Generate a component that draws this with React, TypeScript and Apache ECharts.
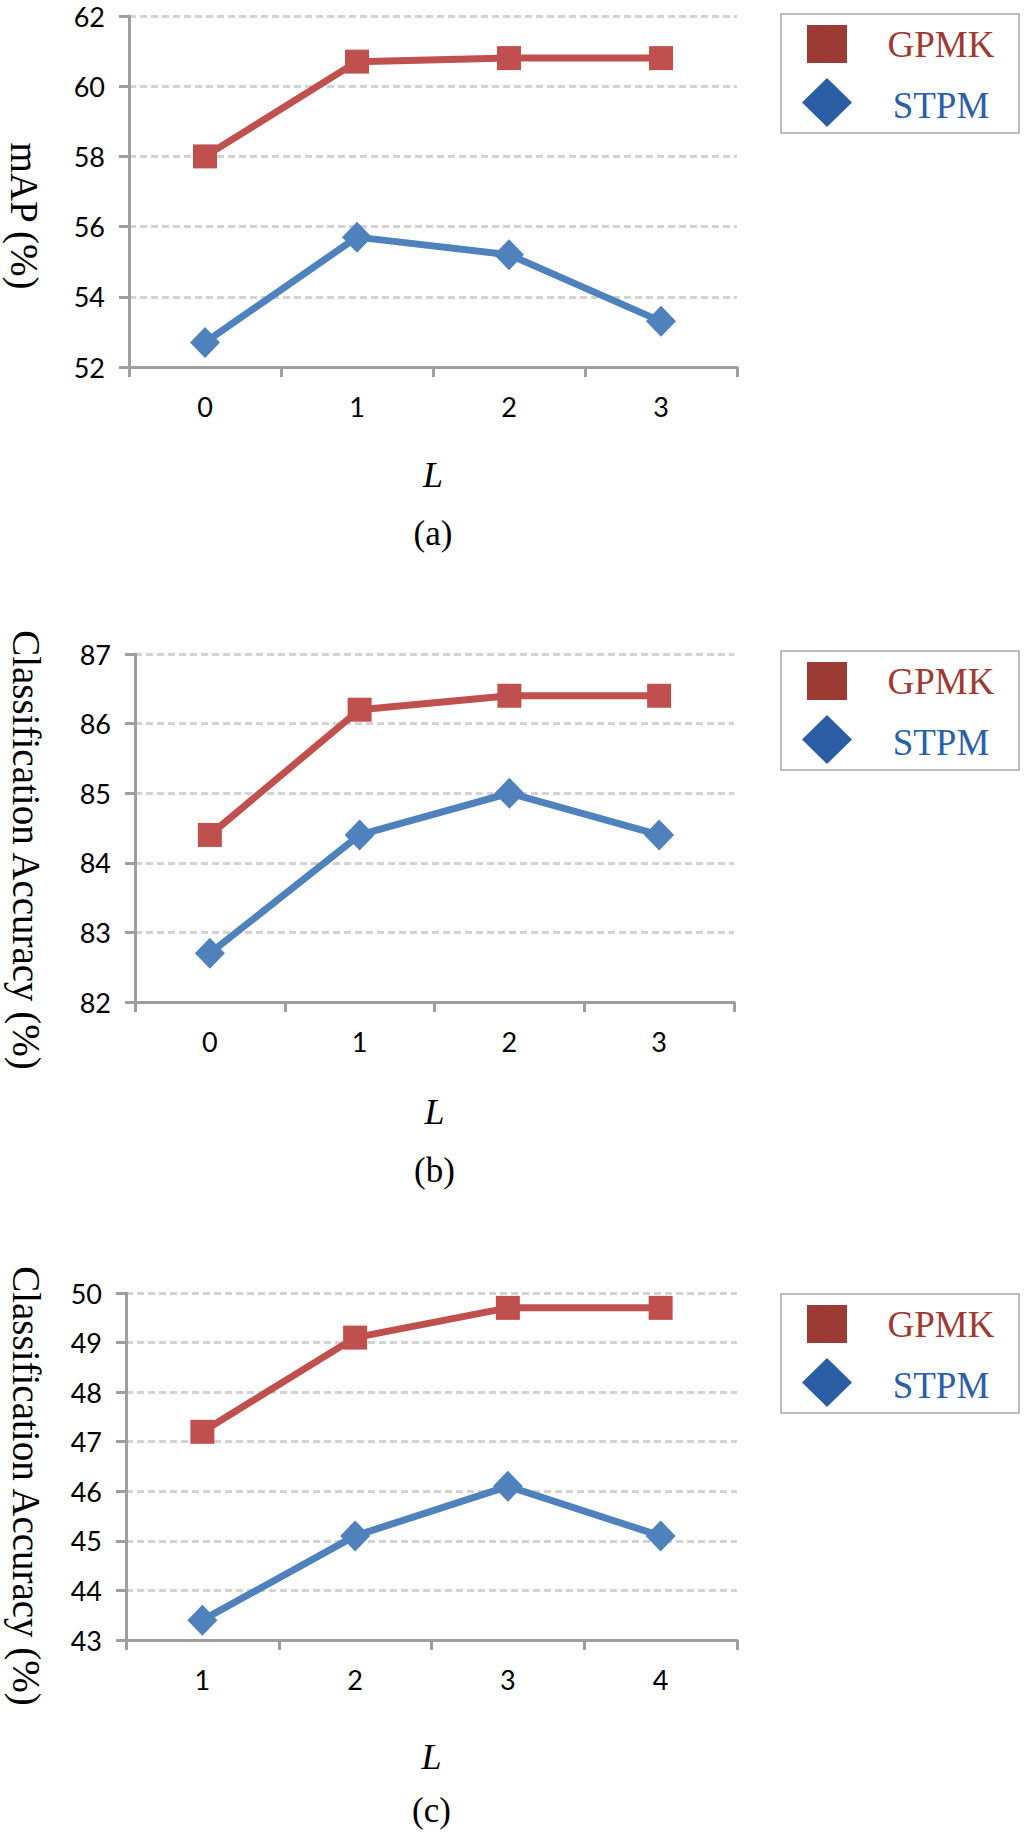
import { useEffect, useRef } from 'react';
import * as echarts from 'echarts';

// 값
const seriesNames = ['GPMK', 'STPM'];
const levelsA = ['0', '1', '2', '3'];
const levelsB = ['0', '1', '2', '3'];
const levelsC = ['1', '2', '3', '4'];
const gpmkA = [58.0, 60.7, 60.8, 60.8];
const stpmA = [52.7, 55.7, 55.2, 53.3];
const gpmkB = [84.4, 86.2, 86.4, 86.4];
const stpmB = [82.7, 84.4, 85.0, 84.4];
const gpmkC = [47.2, 49.1, 49.7, 49.7];
const stpmC = [43.4, 45.1, 46.1, 45.1];
// [min, max, interval]
const yTicksA = [52, 62, 2];
const yTicksB = [82, 87, 1];
const yTicksC = [43, 50, 1];
const yTitles = ['mAP (%)', 'Classification Accuracy (%)', 'Classification Accuracy (%)'];
const xTitle = 'L';
const captions = ['(a)', '(b)', '(c)'];

const RED = '#c0504d';
const BLUE = '#4f81bd';
const AXIS = '#9e9e9e';
const GRID = '#d3d3d3';
const SERIF = '"Liberation Serif", "Times New Roman", serif';
const SANS = 'Lato, sans-serif';

const panels = [
  { cats: levelsA, gpmk: gpmkA, stpm: stpmA, ticks: yTicksA, grid: { left: 129, top: 16, width: 608, height: 351 }, yTitleX: 24, yTitleY: 216, legendTop: 14, xTitleY: 475, captionY: 533 },
  { cats: levelsB, gpmk: gpmkB, stpm: stpmB, ticks: yTicksB, grid: { left: 135, top: 654, width: 599, height: 348 }, yTitleX: 26, yTitleY: 850, legendTop: 651, xTitleY: 1112, captionY: 1170 },
  { cats: levelsC, gpmk: gpmkC, stpm: stpmC, ticks: yTicksC, grid: { left: 126, top: 1293, width: 611, height: 347 }, yTitleX: 26, yTitleY: 1486, legendTop: 1294, xTitleY: 1757, captionY: 1810 },
];

function legendBox(top: number) {
  return {
    type: 'group',
    x: 781,
    y: top,
    children: [
      { type: 'rect', shape: { x: 0, y: 0, width: 238, height: 119 }, style: { fill: '#fff', stroke: '#a6a6a6', lineWidth: 1.5 } },
      { type: 'rect', shape: { x: 26, y: 11, width: 40, height: 38 }, style: { fill: '#9c3b34' } },
      { type: 'polygon', shape: { points: [[46, 64], [71, 88.5], [46, 113], [21, 88.5]] }, style: { fill: '#2a5da4' } },
      {
        type: 'text', x: 160, y: 30,
        style: { text: seriesNames[0], fontSize: 37, fontFamily: SERIF, fill: '#9e3a32', textAlign: 'center', textVerticalAlign: 'middle' },
      },
      {
        type: 'text', x: 160, y: 91,
        style: { text: seriesNames[1], fontSize: 37, fontFamily: SERIF, fill: '#2b5fa6', textAlign: 'center', textVerticalAlign: 'middle' },
      },
    ],
  };
}

export default function App() {
  const chartRef = useRef<HTMLDivElement>(null);

  useEffect(() => {
    if (!chartRef.current) return;
    document.body.style.margin = '0';

    const chart = echarts.init(chartRef.current, undefined, { renderer: 'svg' });

    const grids = panels.map((p) => ({ ...p.grid, containLabel: false }));

    const xAxes = panels.map((p, i) => ({
      type: 'category',
      gridIndex: i,
      data: p.cats,
      boundaryGap: true,
      axisLine: { lineStyle: { color: AXIS, width: 3 } },
      axisTick: { show: true, length: 10, lineStyle: { color: AXIS, width: 3 } },
      axisLabel: { color: '#000', fontSize: 27, fontFamily: SANS, margin: 26 },
      splitLine: { show: false },
    }));

    const yAxes = panels.map((p, i) => ({
      type: 'value',
      gridIndex: i,
      min: p.ticks[0],
      max: p.ticks[1],
      interval: p.ticks[2],
      axisLine: { show: true, lineStyle: { color: AXIS, width: 3 } },
      axisTick: { show: true, length: 10, lineStyle: { color: AXIS, width: 3 } },
      axisLabel: { color: '#000', fontSize: 27, fontFamily: SANS, margin: 24 },
      splitLine: { show: true, lineStyle: { color: GRID, width: 3, type: [7, 4] } },
    }));

    const series: any[] = [];
    panels.forEach((p, i) => {
      series.push({
        name: seriesNames[0],
        type: 'line',
        xAxisIndex: i,
        yAxisIndex: i,
        data: p.gpmk,
        symbol: 'rect',
        symbolSize: 24,
        lineStyle: { color: RED, width: 7 },
        itemStyle: { color: RED },
        emphasis: { disabled: true },
      });
      series.push({
        name: seriesNames[1],
        type: 'line',
        xAxisIndex: i,
        yAxisIndex: i,
        data: p.stpm,
        symbol: 'diamond',
        symbolSize: [30, 31],
        lineStyle: { color: BLUE, width: 7 },
        itemStyle: { color: BLUE },
        emphasis: { disabled: true },
      });
    });

    const graphic: any[] = [];
    panels.forEach((p, i) => {
      const cx = p.grid.left + p.grid.width / 2;
      graphic.push(legendBox(p.legendTop));
      // 세로 제목: 위에서 아래로 읽힘
      graphic.push({
        type: 'text', x: p.yTitleX, y: p.yTitleY, rotation: -Math.PI / 2,
        style: { text: yTitles[i], fontSize: 39, fontFamily: SERIF, fill: '#000', textAlign: 'center', textVerticalAlign: 'middle' },
      });
      graphic.push({
        type: 'text', x: cx, y: p.xTitleY,
        style: { text: xTitle, fontSize: 36, fontStyle: 'italic', fontFamily: SERIF, fill: '#000', textAlign: 'center', textVerticalAlign: 'middle' },
      });
      graphic.push({
        type: 'text', x: cx, y: p.captionY,
        style: { text: captions[i], fontSize: 35, fontFamily: SERIF, fill: '#000', textAlign: 'center', textVerticalAlign: 'middle' },
      });
    });

    const option: any = {
      animation: false,
      backgroundColor: '#fff',
      grid: grids,
      xAxis: xAxes,
      yAxis: yAxes,
      series,
      graphic,
    };

    chart.setOption(option);

    const onResize = () => chart.resize();
    window.addEventListener('resize', onResize);

    return () => {
      window.removeEventListener('resize', onResize);
      chart.dispose();
    };
  }, []);

  return <div ref={chartRef} style={{ width: '1024px', height: '1832px' }}></div>;
}
